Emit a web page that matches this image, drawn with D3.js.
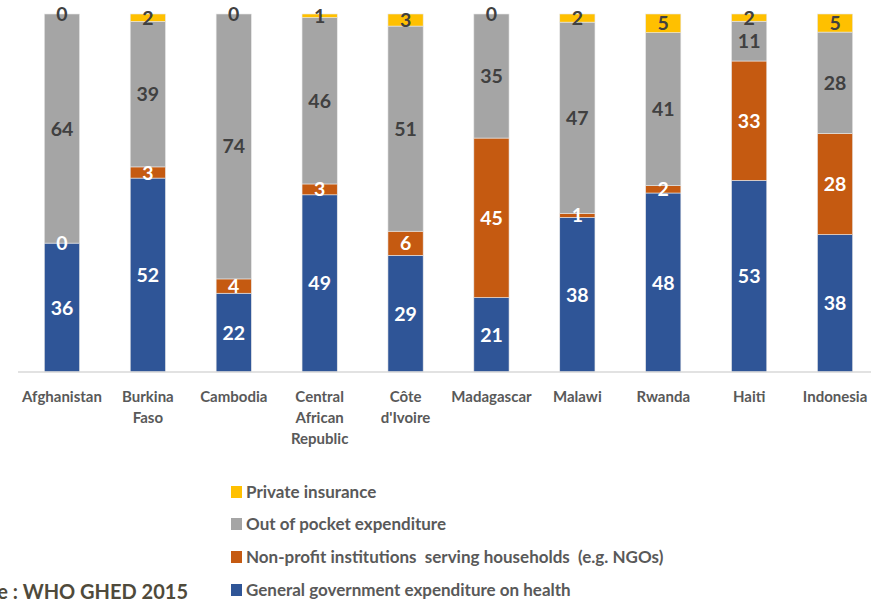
<!DOCTYPE html>
<html>
<head>
<meta charset="utf-8">
<script src="https://cdn.jsdelivr.net/npm/d3@7"></script>
<style>
  body { margin: 0; background: #fff; }
  svg { display: block; }
  text { font-family: Lato, "Liberation Sans", Arial, sans-serif; }
</style>
</head>
<body>
<svg id="chart" width="871" height="600"></svg>
<script>
// Health expenditure by financing source (share of total, %)
const countries = ["Afghanistan", "Burkina Faso", "Cambodia", "Central African Republic",
  "Côte d'Ivoire", "Madagascar", "Malawi", "Rwanda", "Haiti", "Indonesia"];
const countryLines = [["Afghanistan"], ["Burkina", "Faso"], ["Cambodia"], ["Central", "African", "Republic"],
  ["Côte", "d'Ivoire"], ["Madagascar"], ["Malawi"], ["Rwanda"], ["Haiti"], ["Indonesia"]];

const government       = [36, 52, 22, 49, 29, 21, 38, 48, 53, 38];
const nonProfit        = [0, 3, 4, 3, 6, 45, 1, 2, 33, 28];
const outOfPocket      = [64, 39, 74, 46, 51, 35, 47, 41, 11, 28];
const privateInsurance = [0, 2, 0, 1, 3, 0, 2, 5, 2, 5];

const seriesKeys   = ["government", "nonProfit", "outOfPocket", "privateInsurance"];
const seriesLabels = ["General government expenditure on health",
  "Non-profit institutions  serving households  (e.g. NGOs)",
  "Out of pocket expenditure",
  "Private insurance"];
const seriesColors = ["#2F5597", "#C55A11", "#A5A5A5", "#FFC000"];
const labelColors  = ["#ffffff", "#ffffff", "#404040", "#404040"];

const sourceNote = "Source : WHO GHED 2015";

const rows = countries.map((c, i) => ({
  country: c,
  government: government[i],
  nonProfit: nonProfit[i],
  outOfPocket: outOfPocket[i],
  privateInsurance: privateInsurance[i]
}));

const svg = d3.select("#chart");

const x = d3.scaleBand()
  .domain(countries)
  .range([19, 878])
  .paddingInner(0.59)
  .paddingOuter(0.295);

const y = d3.scaleLinear().domain([0, 1]).range([372, 14]);

// Each bar is normalised to 100%
const stacked = d3.stack()
  .keys(seriesKeys)
  .offset(d3.stackOffsetExpand)(rows);

// Bars
const layers = svg.append("g")
  .selectAll("g")
  .data(stacked)
  .join("g")
  .attr("fill", (d, i) => seriesColors[i]);

layers.selectAll("rect")
  .data(d => d)
  .join("rect")
  .attr("x", d => x(d.data.country))
  .attr("width", x.bandwidth())
  .attr("y", d => y(d[1]))
  .attr("height", d => y(d[0]) - y(d[1]))
  .attr("stroke", "#e8e8e8")
  .attr("stroke-width", 0.6);

// Category axis
const axis = svg.append("g")
  .attr("transform", "translate(0,372)")
  .call(d3.axisBottom(x).tickSize(0).tickFormat(""));
axis.select(".domain").attr("stroke", "#d9d9d9").attr("stroke-width", 1.5)
  .attr("d", "M18,0H871");
axis.selectAll(".tick").each(function (c, i) {
  const t = d3.select(this).append("text")
    .attr("fill", "#595959")
    .attr("font-size", 15)
    .attr("font-weight", "bold")
    .attr("text-anchor", "middle");
  countryLines[i].forEach((line, j) => {
    t.append("tspan").attr("x", 0).attr("y", 30 + j * 21).text(line);
  });
});

// Value labels, centred in each segment
layers.each(function (layer, li) {
  d3.select(this.parentNode).append("g")
    .selectAll("text")
    .data(layer)
    .join("text")
    .attr("x", d => x(d.data.country) + x.bandwidth() / 2)
    .attr("y", d => (y(d[0]) + y(d[1])) / 2)
    .attr("dy", "0.36em")
    .attr("text-anchor", "middle")
    .attr("font-size", 19.5)
    .attr("font-weight", "bold")
    .attr("fill", labelColors[li])
    .text(d => d.data[layer.key]);
});

// Legend (top to bottom: last series first)
const legendOrder = [3, 2, 1, 0];
const legendY = [492, 524, 557, 590];
const legend = svg.append("g");
legendOrder.forEach((si, k) => {
  legend.append("rect")
    .attr("x", 231).attr("y", legendY[k] - 6)
    .attr("width", 11).attr("height", 12)
    .attr("fill", seriesColors[si]);
  legend.append("text")
    .attr("x", 246).attr("y", legendY[k])
    .attr("dy", "0.35em")
    .attr("font-size", 17)
    .attr("font-weight", "bold")
    .attr("fill", "#595959")
    .style("white-space", "pre")
    .text(seriesLabels[si]);
});

// Source note
svg.append("text")
  .attr("x", 188).attr("y", 599)
  .attr("text-anchor", "end")
  .attr("font-size", 20)
  .attr("font-weight", "bold")
  .attr("fill", "#4f4a3b")
  .text(sourceNote);
</script>
</body>
</html>
